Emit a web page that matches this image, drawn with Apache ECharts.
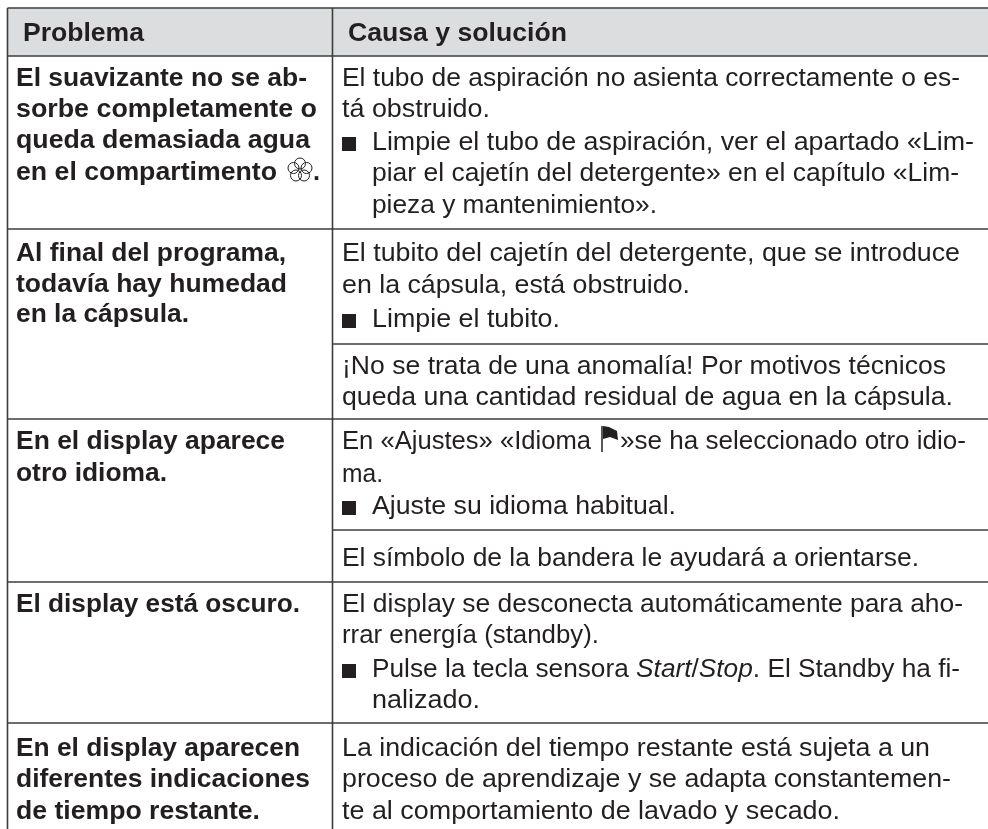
<!DOCTYPE html>
<html>
<head>
<meta charset="utf-8">
<style>html,body{margin:0;padding:0;background:#fff}#main{width:988px;height:829px}</style>
<script src="https://cdn.jsdelivr.net/npm/echarts@6/dist/echarts.min.js"></script>
</head>
<body>
<div id="main"></div>
<script>
// contenido de la tabla
var headers = ['Problema', 'Causa y solución'];
var problems = [
	['El suavizante no se ab-', 'sorbe completamente o', 'queda demasiada agua', 'en el compartimento'],
	['Al final del programa,', 'todavía hay humedad', 'en la cápsula.'],
	['En el display aparece', 'otro idioma.'],
	['El display está oscuro.'],
	['En el display aparecen', 'diferentes indicaciones', 'de tiempo restante.']
];
var causes = [
	['El tubo de aspiración no asienta correctamente o es-', 'tá obstruido.', '■Limpie el tubo de aspiración, ver el apartado «Lim-', 'piar el cajetín del detergente» en el capítulo «Lim-', 'pieza y mantenimiento».'],
	['El tubito del cajetín del detergente, que se introduce', 'en la cápsula, está obstruido.', '■Limpie el tubito.'],
	['¡No se trata de una anomalía! Por motivos técnicos', 'queda una cantidad residual de agua en la cápsula.'],
	['En «Ajustes» «Idioma', 'ma.', '■Ajuste su idioma habitual.'],
	['El símbolo de la bandera le ayudará a orientarse.'],
	['El display se desconecta automáticamente para aho-', 'rrar energía (standby).', '■Pulse la tecla sensora {i|Start}/{i|Stop}. El Standby ha fi-', 'nalizado.'],
	['La indicación del tiempo restante está sujeta a un', 'proceso de aprendizaje y se adapta constantemen-', 'te al comportamiento de lavado y secado.']
];
var flagTail = '»se ha seleccionado otro idio-';

// posiciones de cada linea
var problemY = [[79, 110, 141, 173], [254, 285, 315], [442, 474], [605], [749, 780, 812]];
var problemEnd = [[307, 317, 310, 277], [286, 287, 189], [285, 167], [300], [300, 310, 260]];
var causeY = [[79, 110, 143, 174, 206], [254, 286, 320], [367, 398], [442, 475, 507], [559], [605, 636, 670, 701], [749, 780, 812]];
var causeEnd = [[960, 490, 974, 959, 657], [960, 690, 560], [946, 953], [591, 383, 676], [919], [963, 599, 960, 480], [930, 951, 840]];
var fullLines = [56, 229, 419, 582, 723];
var rightLines = [344, 530];
var leftX = 7.5, midX = 332.5, topY = 8;
var ink = '#231f20', rule = '#3c3c3c', fontSize = 26.7;

var els = [];
var ctx = document.createElement('canvas').getContext('2d');

// el original tiene interletraje distinto en cada linea: se ajusta al final leido
function addText(x, y, text, weight, endX) {
	ctx.font = (weight || 'normal') + ' ' + fontSize + 'px "Liberation Sans"';
	var w = ctx.measureText(text.replace(/\{i\||\}/g, '')).width;
	els.push({
		type: 'text', x: x, y: y, scaleX: (endX - x) / w, silent: true,
		style: {
			text: text, fill: ink, fontFamily: '"Liberation Sans", Arial, sans-serif',
			fontSize: fontSize, fontWeight: weight || 'normal', verticalAlign: 'middle',
			rich: { i: { fontStyle: 'italic', fontSize: fontSize, fontFamily: '"Liberation Sans"', fill: ink } }
		}
	});
}
function addLine(x1, y1, x2, y2) {
	els.push({ type: 'line', silent: true, shape: { x1: x1, y1: y1, x2: x2, y2: y2 }, style: { stroke: rule, lineWidth: 1.6 } });
}

// cabecera
els.push({ type: 'rect', silent: true, shape: { x: leftX, y: topY, width: 988 - leftX, height: 48 }, style: { fill: '#dcddde' } });
addText(23, 34, headers[0], 'bold', 144);
addText(348, 34, headers[1], 'bold', 567);

// reglas
addLine(leftX, topY, 988, topY);
fullLines.forEach(function (y) { addLine(leftX, y, 988, y); });
rightLines.forEach(function (y) { addLine(midX, y, 988, y); });
addLine(leftX, topY, leftX, 829);
addLine(midX, topY, midX, 829);

// columna izquierda
problems.forEach(function (lines, r) {
	lines.forEach(function (s, i) { addText(16, problemY[r][i], s, 'bold', problemEnd[r][i]); });
});
addText(313, problemY[0][3], '.', 'bold', 320);

// columna derecha: lo que sigue a una viñeta va sangrado
causes.forEach(function (lines, r) {
	var indented = false;
	lines.forEach(function (s, i) {
		var y = causeY[r][i];
		if (s.charAt(0) === '■') {
			els.push({ type: 'rect', silent: true, shape: { x: 342, y: y - 6, width: 14, height: 14 }, style: { fill: ink } });
			s = s.slice(1);
			indented = true;
		}
		addText(indented ? 372 : 342, y, s, 'normal', causeEnd[r][i]);
	});
});
addText(620, causeY[3][0], flagTail, 'normal', 966);

// bandera
els.push({ type: 'line', silent: true, shape: { x1: 602, y1: 426, x2: 602, y2: 452 }, style: { stroke: ink, lineWidth: 1.5 } });
els.push({ type: 'polygon', silent: true, shape: { points: [[603, 426], [609, 427], [617, 431], [618, 440], [610, 437], [603, 439]] }, style: { fill: ink } });

// flor del suavizante
var fx = 300, fy = 170;
[[0, -6.5], [6.5, -2], [4, 5.5], [-4, 5.5], [-6.5, -2]].forEach(function (p) {
	els.push({ type: 'circle', silent: true, shape: { cx: fx + p[0], cy: fy + p[1], r: 5.5 }, style: { fill: 'none', stroke: ink, lineWidth: 1 } });
});

var myChart = echarts.init(document.getElementById('main'), null, { renderer: 'canvas' });
myChart.setOption({ animation: false, graphic: { elements: els } });
</script>
</body>
</html>
